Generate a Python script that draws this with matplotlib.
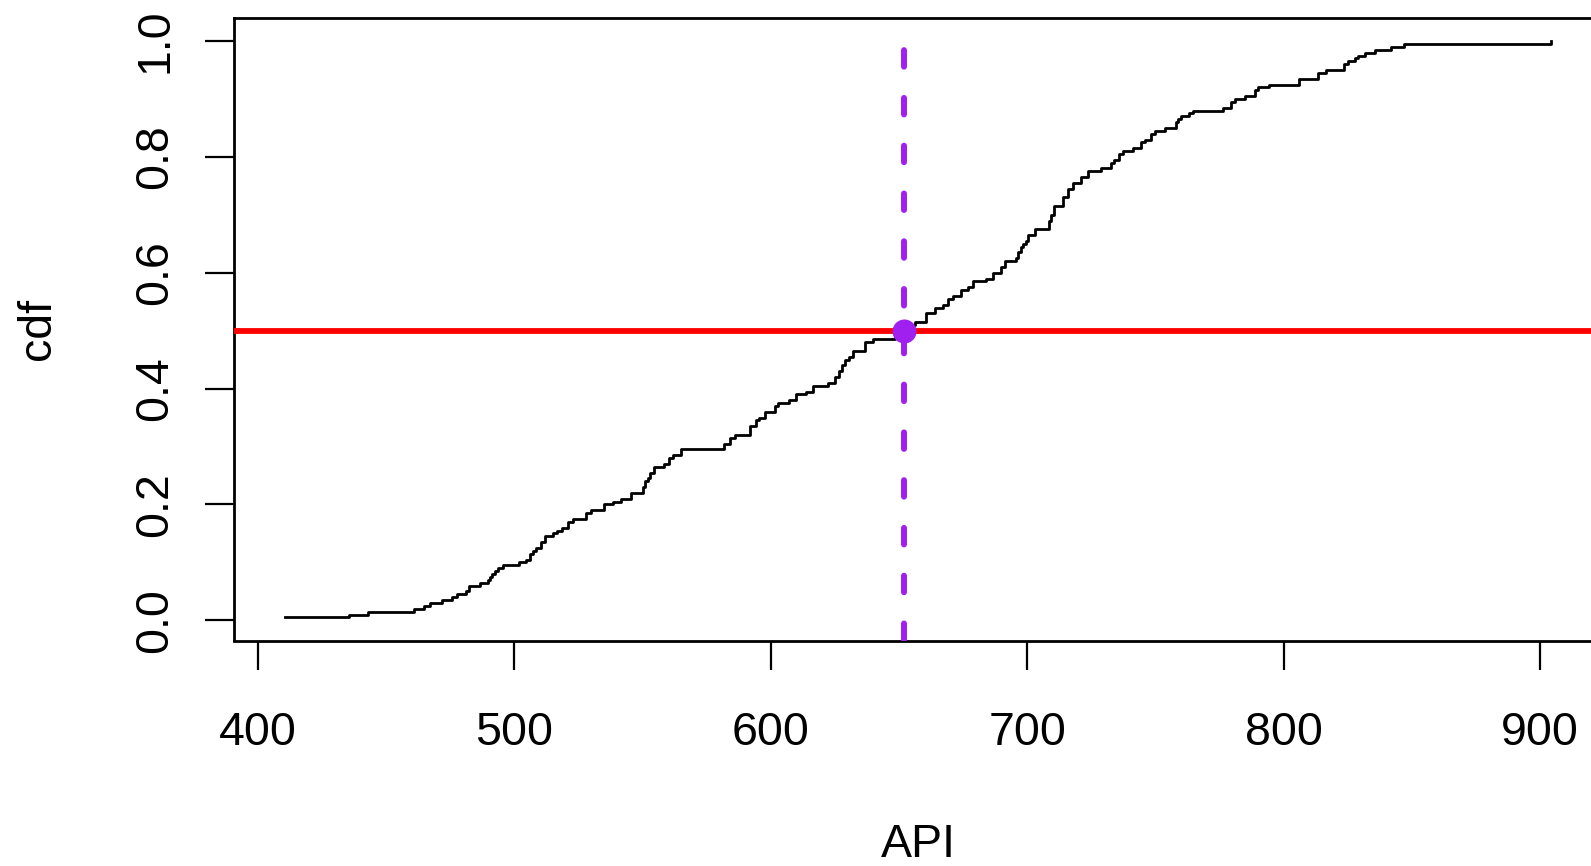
import numpy as np
import matplotlib
matplotlib.use("Agg")
import matplotlib.pyplot as plt

api_steps = [
    410.5, 435.7, 442.9, 460.8, 465.0, 467.0, 471.8, 475.8, 477.7, 481.2,
    482.5, 486.7, 489.7, 490.5, 491.5, 492.5, 493.5, 495.5, 502.0, 504.6,
    506.0, 507.5, 508.5, 510.5, 512.0, 515.0, 516.5, 518.5, 521.0, 522.9,
    528.0, 530.0, 535.2, 538.5, 541.7, 545.6, 550.2, 551.0, 552.0, 553.0,
    554.7, 558.6, 560.5, 562.0, 565.0, 582.0, 584.0, 585.9, 592.1, 594.3,
    595.5, 597.6, 601.5, 603.0, 607.3, 610.0, 613.8, 616.5, 622.3, 624.9,
    626.8, 628.0, 629.0, 630.5, 632.0, 636.6, 639.9, 648.3, 651.5, 653.0,
    654.5, 656.1, 660.6, 663.9, 667.2, 669.1, 671.0, 674.3, 676.9, 678.9,
    684.0, 686.7, 689.9, 691.2, 695.7, 696.5, 697.5, 698.5, 699.5, 700.3,
    702.9, 708.7, 709.5, 710.6, 714.0, 715.9, 717.9, 721.1, 723.7, 728.9,
    732.8, 734.0, 736.0, 737.5, 741.2, 744.5, 746.0, 748.4, 750.0, 753.6,
    758.1, 759.0, 760.0, 763.3, 764.5, 776.3, 779.6, 781.0, 784.8, 788.7,
    790.0, 794.5, 806.2, 813.4, 816.7, 823.6, 825.0, 827.7, 829.0, 831.6,
    835.5, 842.0, 847.0, 904.4,
]
cdf_levels = [
    0.005, 0.010, 0.015, 0.020, 0.025, 0.030, 0.035, 0.040, 0.045, 0.050,
    0.060, 0.065, 0.070, 0.075, 0.080, 0.085, 0.090, 0.095, 0.100, 0.105,
    0.115, 0.120, 0.125, 0.135, 0.145, 0.150, 0.155, 0.160, 0.170, 0.175,
    0.185, 0.190, 0.200, 0.205, 0.210, 0.220, 0.230, 0.240, 0.245, 0.255,
    0.265, 0.270, 0.280, 0.285, 0.295, 0.305, 0.315, 0.320, 0.335, 0.345,
    0.350, 0.360, 0.370, 0.375, 0.380, 0.390, 0.395, 0.405, 0.410, 0.420,
    0.430, 0.440, 0.450, 0.455, 0.465, 0.480, 0.485, 0.495, 0.500, 0.505,
    0.510, 0.515, 0.530, 0.540, 0.545, 0.555, 0.560, 0.570, 0.575, 0.585,
    0.590, 0.600, 0.610, 0.620, 0.625, 0.635, 0.645, 0.650, 0.655, 0.665,
    0.675, 0.690, 0.700, 0.715, 0.730, 0.745, 0.755, 0.765, 0.775, 0.780,
    0.790, 0.795, 0.805, 0.810, 0.815, 0.825, 0.830, 0.840, 0.845, 0.850,
    0.860, 0.865, 0.870, 0.875, 0.880, 0.885, 0.895, 0.900, 0.905, 0.915,
    0.920, 0.925, 0.935, 0.945, 0.950, 0.960, 0.965, 0.970, 0.975, 0.980,
    0.985, 0.990, 0.995, 1.000,
]
median_api = 652.0
median_cdf = 0.5

x_ticks = [400, 500, 600, 700, 800, 900]
y_ticks = [0.0, 0.2, 0.4, 0.6, 0.8, 1.0]
y_ticklabels = ["0.0", "0.2", "0.4", "0.6", "0.8", "1.0"]

plt.rcParams["font.family"] = ["Liberation Sans", "DejaVu Sans"]
plt.rcParams["lines.scale_dashes"] = False

W, H = 1591, 866
fig = plt.figure(figsize=(W / 100, H / 100), dpi=100)

# plot box in pixels (right edge runs past the figure, as in the reference)
left, top, bottom, right = 234, 18, 640.5, 1602
ax = fig.add_axes([left / W, (H - bottom) / H, (right - left) / W, (bottom - top) / H])

xr = max(api_steps) - min(api_steps)
ax.set_xlim(min(api_steps) - 0.04 * xr, max(api_steps) + 0.04 * xr)
yr = max(cdf_levels) - min(cdf_levels)
ylo, yhi = min(cdf_levels) - 0.04 * yr, max(cdf_levels) + 0.04 * yr
ax.set_ylim(ylo, yhi)

ax.step(api_steps, cdf_levels, where="post", color="black", lw=2.0)
ax.axhline(median_cdf, color="#FF0000", lw=4.2, zorder=3)
# dashed vertical drawn from the axis up to cdf = 1
ax.plot([median_api, median_api], [ylo, 1.0], color="#A020F0", lw=4.3,
        dashes=(11.9, 22.5), dash_capstyle="round", zorder=4)
ax.plot([median_api], [median_cdf], "o", color="#A020F0", ms=17.3, mew=0, zorder=5)

ax.set_xticks(x_ticks)
ax.set_yticks(y_ticks)
ax.set_yticklabels(y_ticklabels, rotation=90, va="center")
ax.tick_params(axis="both", labelsize=33.5, length=21, width=1.6, direction="out")
ax.tick_params(axis="x", pad=30)
ax.tick_params(axis="y", pad=20)
for s in ax.spines.values():
    s.set_linewidth(2.0)

fig.text(918 / W, (H - 857) / H, "API", fontsize=33.5, ha="center", va="baseline")
fig.text(38 / W, (H - 329) / H, "cdf", fontsize=33.5, ha="center", va="center", rotation=90)

fig.savefig("out.png", dpi=100)
